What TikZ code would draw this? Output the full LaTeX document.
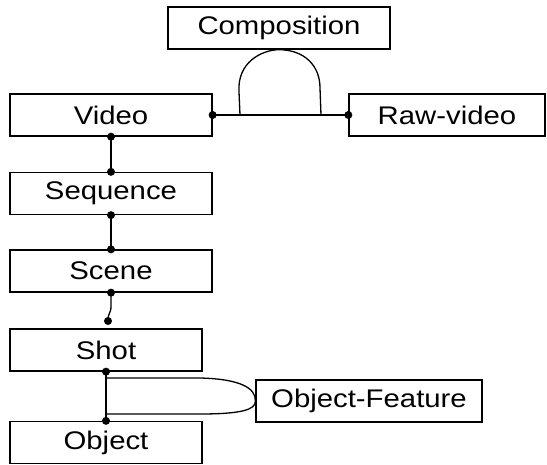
\documentclass[tikz,border=0pt]{standalone}
\usepackage{fontspec}
\setmainfont[FakeStretch=1.15]{Liberation Sans}
\begin{document}
\begin{tikzpicture}[x=1pt,y=-1pt,
  box/.style={draw,line width=1.3pt,inner sep=0pt,minimum height=42pt,font=\fontsize{25.5}{28}\selectfont},
  con/.style={line width=1.3pt},
  dot/.style={circle,fill,inner sep=0pt,minimum size=8pt}]
\useasboundingbox (0,0) rectangle (547,465);
\node[box,minimum width=222pt] (comp) at (279,28) {Composition};
\node[box,minimum width=202pt] (vid) at (111,115) {Video};
\node[box,minimum width=196pt] (raw) at (447,115) {Raw-video};
\node[box,minimum width=202pt] (seq) at (111,193.5) {Sequence};
\node[box,minimum width=202pt] (scn) at (111,271) {Scene};
\node[box,minimum width=192pt] (shot) at (106,350) {Shot};
\node[box,minimum width=192pt] (obj) at (106,442.5) {Object};
\node[box,minimum width=226pt] (of) at (369,401) {Object-Feature};
% Video -- Raw-video
\draw[con] (vid.east) -- (raw.west);
\node[dot] at (vid.east) {};
\node[dot] at (raw.west) {};
% dome to Composition
\coordinate (da) at (240,115);
\coordinate (db) at (321,115);
\draw[con] (da) -- (239,92) .. controls (237,62) and (262,50) .. (comp.south)
  .. controls (305,50) and (320,66) .. (320,88) -- (db);
% vertical chain
\draw[con] (vid.south) -- (seq.north);
\node[dot] at (vid.south) {};
\node[dot] at (seq.north) {};
\draw[con] (seq.south) -- (scn.north);
\node[dot] at (seq.south) {};
\node[dot] at (scn.north) {};
\coordinate (sc) at (108,321);
\draw[con] (scn.south) -- (111,306) .. controls (111,314) and (108,312) .. (sc);
\node[dot] at (scn.south) {};
\node[dot] at (sc) {};
\draw[con] (shot.south) -- (obj.north);
\node[dot] at (shot.south) {};
\node[dot] at (obj.north) {};
% loop to Object-Feature
\coordinate (la) at (106,378);
\coordinate (lb) at (106,414);
\draw[con] (la) -- (200,378) .. controls (240,379) and (256,388) .. (of.west)
  .. controls (256,410) and (240,414) .. (200,414) -- (lb);
\end{tikzpicture}
\end{document}
